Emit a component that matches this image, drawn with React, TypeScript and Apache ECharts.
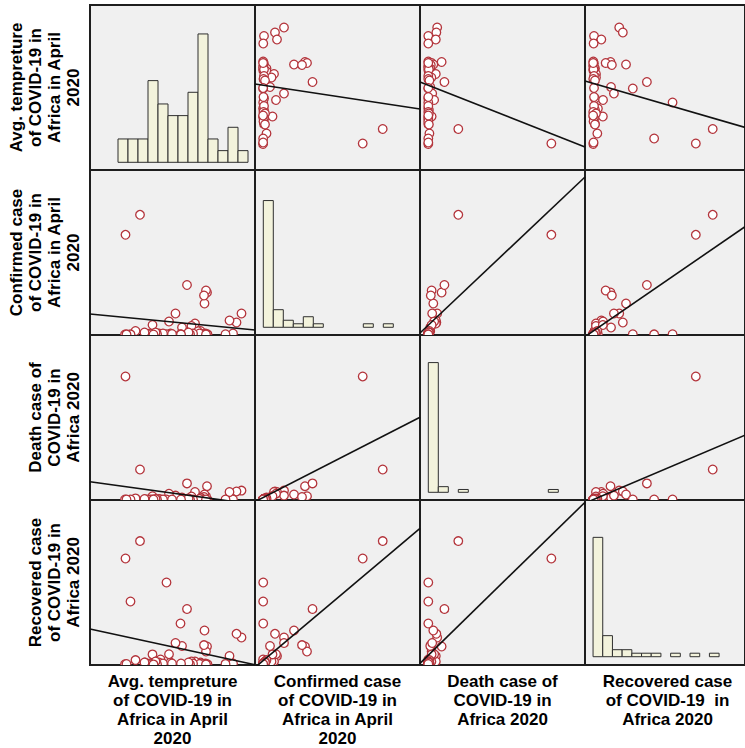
import React, { useEffect, useRef } from "react";
import * as echarts from "echarts";

// ---------------- data: 50 African countries ----------------
const temperature = [34.7, 33.7, 33.0, 32.3, 31.5, 27.9, 27.8, 27.5, 27.6, 27.3, 27.2, 26.5, 26.2, 25.9, 25.4, 24.7, 23.8, 22.8, 22.5, 21.5, 20.5, 20.2, 19.7, 18.5, 18.2, 16.9, 16.8, 15.4, 14.4, 13.5, 12.5, 11.5, 11.4, 27.0, 26.7, 26.3, 27.6, 25.0, 24.4, 24.1, 22.6, 20.8, 19.0, 17.8, 17.5, 16.4, 15.9, 15.3, 17.1, 11.7];
const confirmed = [945, 540, 45, 630, 12, 8, 1890, 40, 1980, 1395, 1755, 158, 6, 158, 495, 383, 2228, 315, 10, 945, 45, 585, 10, 5, 45, 428, 4, 45, 5387, 158, 8, 4487, 3, 22, 4, 45, 5, 45, 22, 90, 6, 22, 45, 22, 90, 45, 22, 90, 3, 6];
const deaths = [32, 29, 0, 27, 0, 0, 48, 3, 12, 18, 9, 7, 0, 5, 27, 11, 58, 7, 0, 14, 0, 21, 0, 0, 2, 12, 0, 0, 108, 4, 0, 443, 0, 0, 0, 2, 0, 0, 0, 4, 0, 0, 0, 0, 2, 0, 0, 2, 0, 0];
const recovered = [459, 522, 17, 145, 10, 5, 306, 15, 221, 578, 330, 34, 3, 26, 51, 51, 944, 315, 697, 366, 34, 175, 1394, 85, 34, 172, 9, 34, 2098, 75, 1071, 1802, 5, 2, 17, 9, 3, 17, 4, 34, 17, 17, 17, 4, 51, 17, 9, 34, 2, 9];

// histogram counts on the diagonal (13 bins each)
const tempHist = [2, 2, 2, 7, 5, 4, 4, 6, 11, 2, 1, 3, 1];
const confirmedHist = [36, 5, 2, 1, 3, 1, 0, 0, 0, 0, 1, 0, 1];
const deathHist = [46, 2, 0, 1, 0, 0, 0, 0, 0, 0, 0, 0, 1];
const recoveredHist = [34, 6, 2, 2, 1, 1, 1, 0, 1, 0, 1, 0, 1];

// linear fit (row variable on column variable): y = a + b * x
const fitIntercept = [
  [null, 23.16, 23.15, 23.53],
  [1018.5, null, 420.6, 150],
  [75.0, 6.83, null, -0.7],
  [684.5, 63.7, 158, null],
];
const fitSlope = [
  [null, -0.000673, -0.02189, -0.003308],
  [-21.82, null, 11.818, 1.7647],
  [-2.488, 0.04092, null, 0.08717],
  [-18.42, 0.3187, 4.608, null],
];

const colLabels = [
  "Avg. tempreture\nof COVID-19 in\nAfrica in April\n2020",
  "Confirmed case\nof COVID-19 in\nAfrica in April\n2020",
  "Death case of\nCOVID-19 in\nAfrica 2020",
  "Recovered case\nof COVID-19  in\nAfrica 2020",
];
const rowLabels = [
  "Avg. tempreture\nof COVID-19 in\nAfrica in April\n2020",
  "Confirmed case\nof COVID-19 in\nAfrica in April\n2020",
  "Death case of\nCOVID-19 in\nAfrica 2020",
  "Recovered case\nof COVID-19 in\nAfrica 2020",
];

// ---------------- layout / scales ----------------
const CELL = 165;
const LEFT = 90;
const TOP = 5;
const xRange = [[4.4, 37.4], [-360, 7065], [-29.88, 564.12], [-141.1, 2663.9]];
const yRange = [[6.2, 39.2], [-22.5, 7402.5], [-1.8, 592.2], [-8.5, 2796.5]];
const histX = [[-2.8, 13.7], [-0.83, 15.67], [-0.83, 15.67], [-0.83, 15.67]];
const histY = [[-0.66, 13.48], [-2.19, 44.68], [-2.73, 55.78], [-2.36, 44.64]];

const FONT = 'bold 17px "Liberation Sans", Arial, sans-serif';
const LINE_H = 19;

export default function App() {
  const ref = useRef<HTMLDivElement>(null);
  useEffect(() => {
    if (!ref.current) return;
    const chart = echarts.init(ref.current, undefined, { renderer: "svg" });
    const vars = [temperature, confirmed, deaths, recovered];
    const hists = [tempHist, confirmedHist, deathHist, recoveredHist];
    const grid: any[] = [];
    const xAxis: any[] = [];
    const yAxis: any[] = [];
    const series: any[] = [];
    for (let r = 0; r < 4; r++) {
      for (let c = 0; c < 4; c++) {
        const idx = r * 4 + c;
        grid.push({
          left: LEFT + c * CELL,
          top: TOP + r * CELL,
          width: CELL,
          height: CELL,
          show: true,
          backgroundColor: "#f0f0f0",
          borderColor: "#1e1e1e",
          borderWidth: 2,
        });
        const diag = r === c;
        const xr = diag ? histX[c] : xRange[c];
        const yr = diag ? histY[r] : yRange[r];
        xAxis.push({ type: "value", gridIndex: idx, min: xr[0], max: xr[1], show: false });
        yAxis.push({ type: "value", gridIndex: idx, min: yr[0], max: yr[1], show: false });
        if (diag) {
          series.push({
            type: "custom",
            xAxisIndex: idx,
            yAxisIndex: idx,
            clip: true,
            encode: { x: [0, 1], y: 2 },
            data: hists[c].map((n, i) => [i, i + 1, n]),
            renderItem: (params: any, api: any) => {
              const n = api.value(2);
              if (!n) return null;
              const p0 = api.coord([api.value(0), 0]);
              const p1 = api.coord([api.value(1), n]);
              return {
                type: "rect",
                shape: { x: p0[0], y: p1[1], width: p1[0] - p0[0], height: p0[1] - p1[1] },
                style: { fill: "#f3f3dc", stroke: "#2f2f2f", lineWidth: 1 },
              };
            },
          });
        } else {
          const xs = vars[c];
          const ys = vars[r];
          series.push({
            type: "custom",
            xAxisIndex: idx,
            yAxisIndex: idx,
            clip: true,
            encode: { x: 0, y: 1 },
            data: xs.map((v, i) => [v, ys[i]]),
            renderItem: (params: any, api: any) => {
              const p = api.coord([api.value(0), api.value(1)]);
              return {
                type: "circle",
                shape: { cx: p[0], cy: p[1], r: 4.3 },
                style: { fill: "#ffffff", stroke: "#b3343b", lineWidth: 1.3 },
              };
            },
          });
          const a = fitIntercept[r][c] as number;
          const b = fitSlope[r][c] as number;
          series.push({
            type: "line",
            xAxisIndex: idx,
            yAxisIndex: idx,
            clip: true,
            symbol: "none",
            silent: true,
            z: 5,
            lineStyle: { color: "#111", width: 1.6 },
            data: [
              [xr[0], a + b * xr[0]],
              [xr[1], a + b * xr[1]],
            ],
          });
        }
      }
    }
    const graphic: any[] = [];
    for (let c = 0; c < 4; c++) {
      graphic.push({
        type: "text",
        x: LEFT + c * CELL + CELL / 2,
        y: 672,
        style: {
          text: colLabels[c],
          font: FONT,
          fill: "#000",
          align: "center",
          textAlign: "center",
          verticalAlign: "top",
          textVerticalAlign: "top",
          lineHeight: LINE_H,
        },
      });
    }
    for (let r = 0; r < 4; r++) {
      graphic.push({
        type: "text",
        x: 83,
        y: TOP + r * CELL + CELL / 2,
        rotation: Math.PI / 2,
        style: {
          text: rowLabels[r],
          font: FONT,
          fill: "#000",
          align: "center",
          textAlign: "center",
          verticalAlign: "bottom",
          textVerticalAlign: "bottom",
          lineHeight: LINE_H,
        },
      });
    }
    chart.setOption({
      animation: false,
      backgroundColor: "#ffffff",
      grid,
      xAxis,
      yAxis,
      series,
      graphic,
    });
    return () => chart.dispose();
  }, []);
  return (
    <div
      ref={ref}
      style={{ position: "absolute", left: 0, top: 0, width: 745, height: 748 }}
    />
  );
}
